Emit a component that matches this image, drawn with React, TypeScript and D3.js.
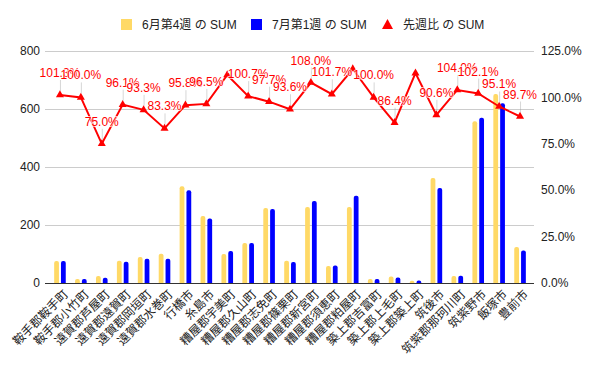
import { useEffect, useRef } from "react";
import * as d3 from "d3";

const categories = [
  "鞍手郡鞍手町",
  "鞍手郡小竹町",
  "遠賀郡芦屋町",
  "遠賀郡遠賀町",
  "遠賀郡岡垣町",
  "遠賀郡水巻町",
  "行橋市",
  "糸島市",
  "糟屋郡宇美町",
  "糟屋郡久山町",
  "糟屋郡志免町",
  "糟屋郡篠栗町",
  "糟屋郡新宮町",
  "糟屋郡須恵町",
  "糟屋郡粕屋町",
  "築上郡吉富町",
  "築上郡上毛町",
  "築上郡築上町",
  "筑後市",
  "筑紫郡那珂川町",
  "筑紫野市",
  "飯塚市",
  "豊前市",
];

const juneWeek4 = [76, 14, 24, 77, 90, 101, 334, 231, 100, 138, 259, 77, 262, 59, 262, 14, 22, 8, 362, 24, 558, 652, 124];
const julyWeek1 = [76, 14, 18, 73, 84, 84, 320, 222, 110, 138, 255, 72, 283, 60, 301, 14, 19, 9, 328, 25, 570, 620, 112];
const weekRatio = [101.3, 100.0, 75.0, 96.1, 93.3, 83.3, 95.8, 96.5, 112.1, 100.7, 97.7, 93.6, 108.0, 101.7, 115.3, 100.0, 86.4, 113.1, 90.6, 104.0, 102.1, 95.1, 89.7];
// labels Google hid because they collided
const hiddenRatioLabels = ["糟屋郡宇美町", "糟屋郡粕屋町", "築上郡築上町"];

const leftTicks = [0, 200, 400, 600, 800];
const rightTicks = [0, 0.25, 0.5, 0.75, 1, 1.25];

const seriesNames = ["6月第4週 の SUM", "7月第1週 の SUM", "先週比 の SUM"];

const W = 601;
const H = 372;
const FONT = "'Liberation Sans', Arial, 'Noto Sans CJK JP', sans-serif";

export default function App() {
  const svgRef = useRef<SVGSVGElement | null>(null);

  useEffect(() => {
    if (!svgRef.current) return;
    const svg = d3.select(svgRef.current);
    svg.selectAll("*").remove();

    const left = 45;
    const right = 534;
    const top = 51;
    const bottom = 283;

    const yellow = "#ffd966";
    const blue = "#0000ff";
    const red = "#ff0000";

    const x = d3.scaleBand<string>().domain(categories).range([49.5, 530.5]);
    const sub = d3
      .scaleBand<number>()
      .domain([0, 1])
      .range([-5.8, 5.8])
      .paddingInner(0.3);
    const y = d3.scaleLinear().domain([0, 800]).range([bottom, top]);
    const y2 = d3.scaleLinear().domain([0, 1.25]).range([bottom, top]);
    const cx = (c: string) => (x(c) ?? 0) + x.bandwidth() / 2;

    svg.append("rect").attr("width", W).attr("height", H).attr("fill", "#fff");

    // gridlines
    svg
      .append("g")
      .selectAll("line")
      .data(leftTicks.filter((t) => t !== 0))
      .join("line")
      .attr("x1", left)
      .attr("x2", right)
      .attr("y1", (d) => y(d) + 0.5)
      .attr("y2", (d) => y(d) + 0.5)
      .attr("stroke", "#cccccc");

    // left axis labels
    svg
      .append("g")
      .selectAll("text")
      .data(leftTicks)
      .join("text")
      .attr("x", 40)
      .attr("y", (d) => y(d))
      .attr("dy", "0.35em")
      .attr("text-anchor", "end")
      .attr("font-family", FONT)
      .attr("font-size", 12)
      .attr("fill", "#222")
      .text((d) => d);

    // right axis labels
    svg
      .append("g")
      .selectAll("text")
      .data(rightTicks)
      .join("text")
      .attr("x", 541)
      .attr("y", (d) => y2(d))
      .attr("dy", "0.35em")
      .attr("font-family", FONT)
      .attr("font-size", 12)
      .attr("fill", "#222")
      .text((d) => d3.format(".1%")(d));

    // bars with rounded tops
    const barPath = (x0: number, w: number, y0: number) => {
      const h = bottom - y0;
      const r = Math.min(2, w / 2, h);
      return `M${x0},${bottom}V${y0 + r}Q${x0},${y0} ${x0 + r},${y0}H${x0 + w - r}Q${x0 + w},${y0} ${x0 + w},${y0 + r}V${bottom}Z`;
    };
    const series = [
      { values: juneWeek4, color: yellow },
      { values: julyWeek1, color: blue },
    ];
    series.forEach((s, si) => {
      svg
        .append("g")
        .selectAll("path")
        .data(categories)
        .join("path")
        .attr("d", (c, i) =>
          barPath(cx(c) + (sub(si) ?? 0), sub.bandwidth(), y(s.values[i]))
        )
        .attr("fill", s.color);
    });

    // baseline
    svg
      .append("line")
      .attr("x1", left)
      .attr("x2", right)
      .attr("y1", bottom + 0.5)
      .attr("y2", bottom + 0.5)
      .attr("stroke", "#333")
      .attr("stroke-width", 1);

    // ratio line
    const pts = categories.map((c, i) => ({
      c,
      x: cx(c),
      y: y2(weekRatio[i] / 100),
      v: weekRatio[i],
    }));
    const line = d3
      .line<{ x: number; y: number }>()
      .x((d) => d.x)
      .y((d) => d.y);
    svg
      .append("path")
      .attr("d", line(pts))
      .attr("fill", "none")
      .attr("stroke", red)
      .attr("stroke-width", 2);

    const tri = d3.symbol().type(d3.symbolTriangle).size(28);
    svg
      .append("g")
      .selectAll("path")
      .data(pts)
      .join("path")
      .attr("transform", (d) => `translate(${d.x},${d.y})`)
      .attr("d", tri()!)
      .attr("fill", red);

    const shown = pts.filter((p) => !hiddenRatioLabels.includes(p.c));
    svg
      .append("g")
      .selectAll("line")
      .data(shown)
      .join("line")
      .attr("x1", (d) => d.x + 0.5)
      .attr("x2", (d) => d.x + 0.5)
      .attr("y1", (d) => d.y - 4)
      .attr("y2", (d) => d.y - 15)
      .attr("stroke", "#999")
      .attr("stroke-opacity", 0.4);
    svg
      .append("g")
      .selectAll("text")
      .data(shown)
      .join("text")
      .attr("x", (d) => d.x)
      .attr("y", (d) => d.y - 18)
      .attr("text-anchor", "middle")
      .attr("font-family", FONT)
      .attr("font-size", 12)
      .attr("fill", red)
      .attr("stroke", "#fff")
      .attr("stroke-width", 2)
      .attr("stroke-opacity", 0.7)
      .attr("paint-order", "stroke")
      .text((d) => d.v.toFixed(1) + "%");

    // x labels
    svg
      .append("g")
      .selectAll("text")
      .data(categories)
      .join("text")
      .attr("transform", (c) => `translate(${cx(c) + 6},${bottom + 9}) rotate(-45)`)
      .attr("text-anchor", "end")
      .attr("dy", "0.35em")
      .attr("font-family", "'Noto Sans CJK JP', sans-serif")
      .attr("font-size", 12)
      .attr("fill", "#222")
      .text((c) => c);

    // legend
    const legendX = [121, 251, 382];
    const lg = svg.append("g");
    seriesNames.forEach((name, i) => {
      if (i < 2) {
        lg.append("rect")
          .attr("x", legendX[i])
          .attr("y", 19)
          .attr("width", 11)
          .attr("height", 11)
          .attr("fill", i === 0 ? yellow : blue);
      } else {
        lg.append("path")
          .attr("d", `M${legendX[i] + 5.5},19L${legendX[i] + 11},29L${legendX[i]},29Z`)
          .attr("fill", red);
      }
      lg.append("text")
        .attr("x", legendX[i] + 21)
        .attr("y", 29)
        .attr("font-family", FONT)
        .attr("font-size", 12)
        .attr("fill", "#222")
        .text(name);
    });
  }, []);

  return (
    <svg
      ref={svgRef}
      width={W}
      height={H}
      style={{ position: "absolute", left: 0, top: 0, display: "block" }}
    />
  );
}
